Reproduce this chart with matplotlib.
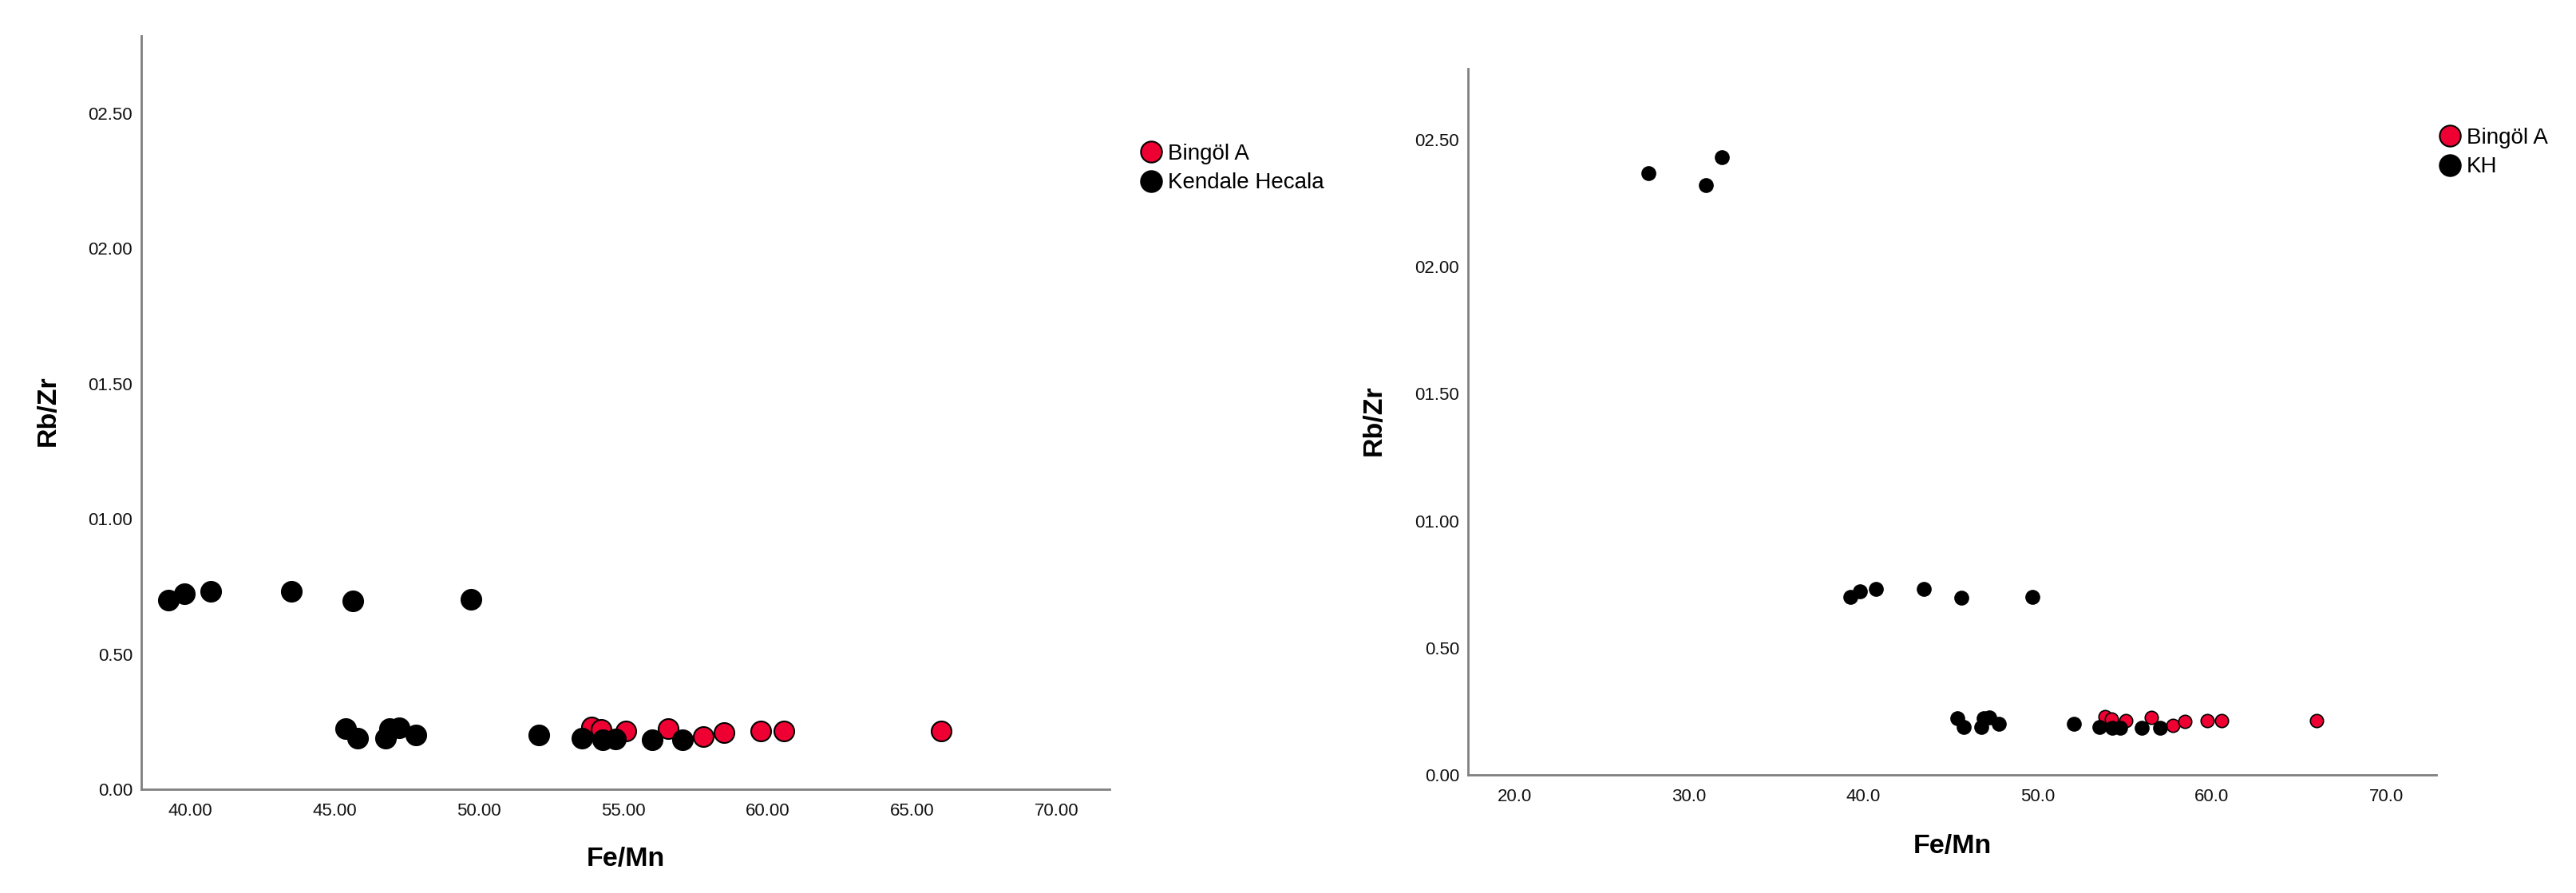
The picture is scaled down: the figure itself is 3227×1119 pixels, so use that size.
import numpy as np
import matplotlib as mpl
mpl.use('Agg')
import matplotlib.pyplot as plt
from matplotlib.lines import Line2D

plt.rcParams['font.family'] = ['Liberation Sans', 'DejaVu Sans']

# Bingöl A (red)
bingol_x = [53.88, 54.22, 55.08, 56.53, 57.77, 58.47, 59.74, 60.54, 65.99]
bingol_y = [0.230, 0.220, 0.215, 0.225, 0.195, 0.210, 0.215, 0.215, 0.215]

# Kendale Hecala / KH (black)
kh_x = [39.26, 39.80, 40.71, 43.49, 45.63, 49.72,
        45.39, 45.79, 46.77, 46.90, 47.24, 47.80, 52.08,
        53.57, 54.28, 54.73, 56.00, 57.05]
kh_y = [0.700, 0.722, 0.732, 0.732, 0.696, 0.702,
        0.223, 0.189, 0.189, 0.223, 0.226, 0.202, 0.202,
        0.189, 0.184, 0.186, 0.184, 0.184]

# extra KH samples only in the right-hand chart
kh_extra_x = [27.66, 30.96, 31.90]
kh_extra_y = [2.37, 2.32, 2.43]

left_xticks = [40, 45, 50, 55, 60, 65, 70]
left_xlabels = ["40.00", "45.00", "50.00", "55.00", "60.00", "65.00", "70.00"]
right_xticks = [20, 30, 40, 50, 60, 70]
right_xlabels = ["20.0", "30.0", "40.0", "50.0", "60.0", "70.0"]
yticks = [0.0, 0.5, 1.0, 1.5, 2.0, 2.5]
ylabels = ["0.00", "0.50", "01.00", "01.50", "02.00", "02.50"]

red = '#EE0033'
W, H = 3227, 1119
fig = plt.figure(figsize=(W / 100, H / 100), dpi=100)

ax1 = fig.add_axes([177 / W, 1 - 989 / H, 1213 / W, 944 / H])
ax2 = fig.add_axes([1839 / W, 1 - 971 / H, 1213 / W, 885 / H])


def style(ax):
    for s in ['top', 'right']:
        ax.spines[s].set_visible(False)
    for s in ['left', 'bottom']:
        ax.spines[s].set_color('#808080')
        ax.spines[s].set_linewidth(2)
    ax.tick_params(length=0, labelsize=16, colors='#111111')
    ax.tick_params(axis='y', pad=8)
    ax.tick_params(axis='x', pad=12)
    ax.set_yticks(yticks)
    ax.set_yticklabels(ylabels)
    ax.set_ylabel("Rb/Zr", fontsize=24.5, fontweight='bold', va='center')
    ax.set_xlabel("Fe/Mn", fontsize=24.5, fontweight='bold', va='center')


# left chart
ax1.scatter(bingol_x, bingol_y, s=324, c=red, edgecolors='black', linewidths=1.5, zorder=3)
ax1.scatter(kh_x, kh_y, s=324, c='black', edgecolors='black', linewidths=1.5, zorder=4)
ax1.set_xlim(38.31, 71.82)
ax1.set_ylim(0, 2.786)
style(ax1)
ax1.set_xticks(left_xticks)
ax1.set_xticklabels(left_xlabels)
ax1.yaxis.set_label_coords(-0.0965, 0.502)
ax1.xaxis.set_label_coords(0.5004, -0.0922)

# right chart
ax2.scatter(bingol_x, bingol_y, s=140, c=red, edgecolors='black', linewidths=1.2, zorder=3)
ax2.scatter(kh_x + kh_extra_x, kh_y + kh_extra_y, s=150, c='black', edgecolors='black',
            linewidths=1.2, zorder=4)
ax2.set_xlim(17.33, 72.88)
ax2.set_ylim(0, 2.78)
style(ax2)
ax2.set_xticks(right_xticks)
ax2.set_xticklabels(right_xlabels)
ax2.yaxis.set_label_coords(-0.0967, 0.502)
ax2.xaxis.set_label_coords(0.5, -0.1006)


def legend_handles():
    return [Line2D([], [], ls='none', marker='o', markersize=19, markerfacecolor=red,
                   markeredgecolor='black', markeredgewidth=1.5),
            Line2D([], [], ls='none', marker='o', markersize=19, markerfacecolor='black',
                   markeredgecolor='black', markeredgewidth=1.5)]


fig.legend(legend_handles(), ["Bingöl A", "Kendale Hecala"], loc='upper left',
           bbox_to_anchor=(1428 / W, 1 - 180 / H), frameon=False, fontsize=20,
           handlelength=1.0, handletextpad=0.26, borderpad=0, borderaxespad=0,
           labelspacing=0.37)
fig.legend(legend_handles(), ["Bingöl A", "KH"], loc='upper left',
           bbox_to_anchor=(3055 / W, 1 - 160 / H), frameon=False, fontsize=20,
           handlelength=1.0, handletextpad=0.26, borderpad=0, borderaxespad=0,
           labelspacing=0.37)

fig.savefig("out.png", dpi=100, facecolor='white')
